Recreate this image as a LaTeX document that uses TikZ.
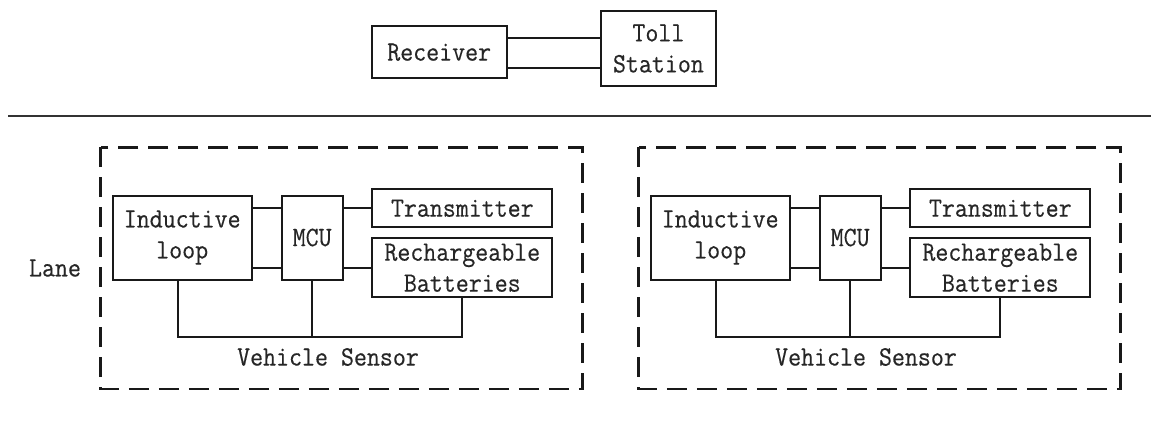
\documentclass[tikz,border=0pt]{standalone}
\usepackage{fontspec}
\newfontfamily\diagfont[FakeStretch=0.9,FakeBold=0.4]{Latin Modern Mono}
\usetikzlibrary{calc}
\tikzset{
  txt/.style={font=\fontsize{28}{31}\selectfont\diagfont, text=black!85, inner sep=0pt, align=center},
  blk/.style={txt, draw=black!90, line width=2pt},
  wire/.style={draw=black!90, line width=2pt},
  sepline/.style={draw=black!80, line width=2.2pt},
  dashbox/.style={draw=black!90, line width=2.6pt, dash pattern=on 20pt off 10pt},
}
\newcommand\vspanel[2]{%
  \draw[dashbox] (100.5+#2,147.3) rectangle (582.7+#2,389);
  \node[blk, minimum width=139pt, minimum height=84pt] (#1ind) at (182.2+#2,237.5) {Inductive\\loop};
  \node[blk, minimum width=61pt, minimum height=84pt] (#1mcu) at (312.2+#2,237.5) {MCU};
  \node[blk, minimum width=180pt, minimum height=38.5pt] (#1tx) at (462.3+#2,208.2) {Transmitter};
  \node[blk, minimum width=180pt, minimum height=59.3pt] (#1bat) at (462.3+#2,267.7) {Rechargeable\\Batteries};
  \node[txt] (#1vs) at (328+#2,357) {Vehicle Sensor};
  \coordinate (#1bus) at (#2,337);
  \draw[wire] (#1ind.east |- #1tx) -- (#1mcu.west |- #1tx);
  \draw[wire] (#1ind.east |- #1bat) -- (#1mcu.west |- #1bat);
  \draw[wire] (#1mcu.east |- #1tx) -- (#1tx.west);
  \draw[wire] (#1mcu.east |- #1bat) -- (#1bat.west);
  \draw[wire] ([xshift=-4pt]#1ind.south) -- ([xshift=-4pt]#1ind.south |- #1bus) -| (#1bat.south);
  \draw[wire] (#1mcu.south) -- (#1mcu.south |- #1bus);
}
\begin{document}
\begin{tikzpicture}[x=1pt,y=-1pt]
  \useasboundingbox (0,0) rectangle (1151,428);
  % top part
  \node[blk, minimum width=135pt, minimum height=52.3pt] (rcv) at (439.2,52.2) {Receiver};
  \node[blk, minimum width=115.3pt, minimum height=75pt] (toll) at (658.4,48.5) {Toll\\Station};
  \draw[wire] ($(rcv.east)+(0,-14)$) -- ($(toll.west |- rcv.east)+(0,-14)$);
  \draw[wire] ($(rcv.east)+(0,16)$) -- ($(toll.west |- rcv.east)+(0,16)$);
  % separator
  \coordinate (sepL) at (8,116);
  \coordinate (sepR) at (1151,116);
  \draw[sepline] (sepL) -- (sepR);
  % lane label
  \node[txt] (lane) at (55,268) {Lane};
  % panels
  \vspanel{L}{0}
  \vspanel{R}{538}
\end{tikzpicture}
\end{document}
